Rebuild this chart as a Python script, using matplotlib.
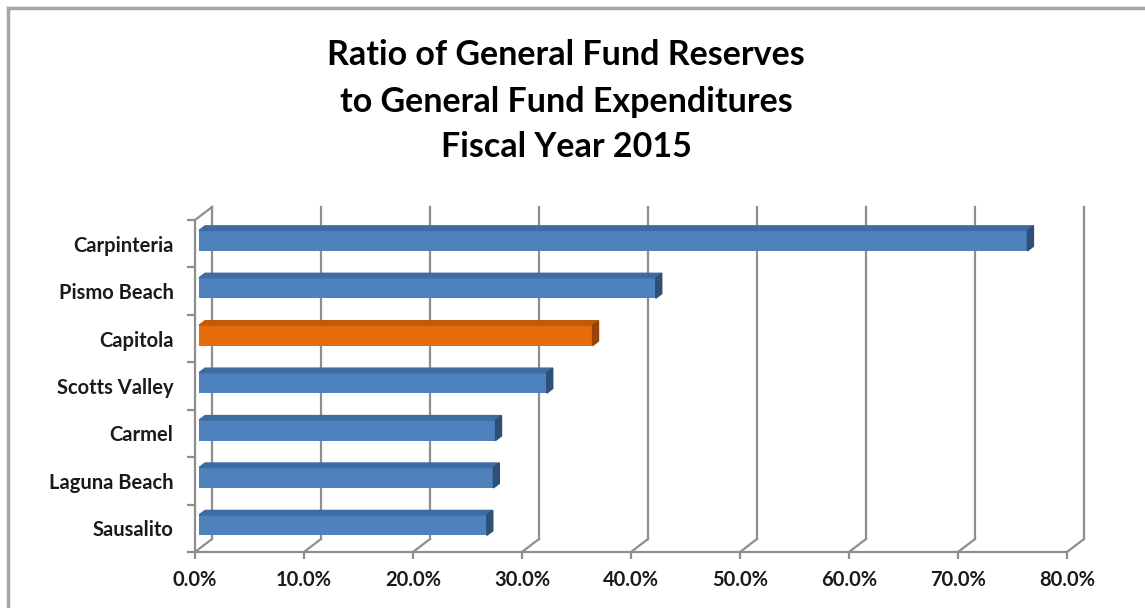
import numpy as np
import matplotlib
matplotlib.use("Agg")
import matplotlib.pyplot as plt
from matplotlib.patches import Polygon
from matplotlib.lines import Line2D
from matplotlib.ticker import PercentFormatter

plt.rcParams['font.family'] = ['Lato', 'DejaVu Sans']
plt.rcParams['font.weight'] = 'bold'

cities = ["Carpinteria", "Pismo Beach", "Capitola", "Scotts Valley",
          "Carmel", "Laguna Beach", "Sausalito"]
ratios = [0.760, 0.419, 0.361, 0.319, 0.272, 0.270, 0.264]
highlight = "Capitola"
title_lines = ["Ratio of General Fund Reserves",
               "to General Fund Expenditures",
               "Fiscal Year 2015"]

W, H, DPI = 1145, 608, 100
fig = plt.figure(figsize=(W / DPI, H / DPI), dpi=DPI)

# front plane of the fake 3D box, in pixels
x0, x1, ytop, ybot = 195, 1067, 220, 552
ax = fig.add_axes([x0 / W, (H - ybot) / H, (x1 - x0) / W, (ybot - ytop) / H])
xmax = 0.8
n = len(cities)
ax.set_xlim(0, xmax)
ax.set_ylim(-0.5, n - 0.5)
ax.patch.set_visible(False)

# depth offset (back wall vs front plane) in data units
DX, DY = 17, 13
ux = DX / ((x1 - x0) / xmax)
uy = DY / ((ybot - ytop) / n)

grid_c = "#8e8e8e"
gl = dict(color=grid_c, lw=1.6, clip_on=False, zorder=1)
ybottom, ytopd = -0.5, n - 0.5
for k in np.arange(0, xmax + 0.001, 0.1):
    ax.add_line(Line2D([k + ux, k + ux], [ybottom + uy, ytopd + uy], **gl))
    ax.add_line(Line2D([k, k + ux], [ybottom, ybottom + uy], **gl))
ax.add_line(Line2D([0, ux], [ytopd, ytopd + uy], **gl))

for sp in ["top", "right"]:
    ax.spines[sp].set_visible(False)
for sp in ["left", "bottom"]:
    ax.spines[sp].set_color(grid_c)
    ax.spines[sp].set_linewidth(1.6)

# bars
ypos = np.arange(n)[::-1]
bh = 0.43
d1, d2 = 0.24, 0.59
for city, v, yc in zip(cities, ratios, ypos):
    if city == highlight:
        front, top, side = "#E46C0A", "#C25A08", "#974506"
    else:
        front, top, side = "#4F81BD", "#3E6BA0", "#2E5077"
    ya, yb = yc - bh / 2, yc + bh / 2
    fx, fy = d1 * ux, d1 * uy
    bx, by = d2 * ux, d2 * uy
    ax.barh(yc + fy, v, height=bh, left=fx, color=front, zorder=3, clip_on=False)
    ax.add_patch(Polygon([(fx, yb + fy), (v + fx, yb + fy), (v + bx, yb + by), (bx, yb + by)],
                         closed=True, color=top, zorder=3, clip_on=False))
    ax.add_patch(Polygon([(v + fx, ya + fy), (v + bx, ya + by), (v + bx, yb + by), (v + fx, yb + fy)],
                         closed=True, color=side, zorder=3, clip_on=False))

ax.set_xticks(np.arange(0, xmax + 0.001, 0.1))
ax.xaxis.set_major_formatter(PercentFormatter(1.0, decimals=1))
ax.tick_params(axis="x", length=5, width=1.6, color=grid_c, pad=8, labelsize=14.5)
ax.set_yticks(ypos)
ax.set_yticklabels(cities)
ax.set_yticks(np.arange(-0.5, n, 1.0), minor=True)
ax.tick_params(axis="y", which="major", length=0, pad=15.5, labelsize=14.5)
ax.tick_params(axis="y", which="minor", length=6, width=1.6, color=grid_c)
for lab in ax.get_xticklabels() + ax.get_yticklabels():
    lab.set_fontweight("bold")
    lab.set_color("#1a1a1a")

# title
for line, yb in zip(title_lines, [65, 112, 157]):
    fig.text(566 / W, 1 - yb / H, line, ha="center", va="baseline",
             fontsize=24.5, fontweight="bold", color="black")

# chart frame
fc = "#a6a6a6"
fig.add_artist(Line2D([8 / W, 1], [1 - 8 / H, 1 - 8 / H], color=fc, lw=2.5))
fig.add_artist(Line2D([8 / W, 8 / W], [0, 1 - 8 / H], color=fc, lw=2.5))

fig.savefig("out.png", dpi=DPI)
